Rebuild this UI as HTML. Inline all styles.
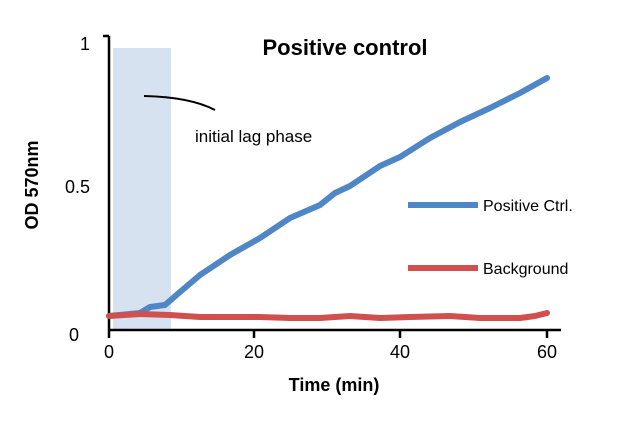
<!DOCTYPE html>
<html><head><style>
body{margin:0;background:#fff;}
svg text{font-family:"Liberation Sans",sans-serif;}
</style></head><body>
<svg width="640" height="430" xmlns="http://www.w3.org/2000/svg">
<rect x="113" y="48" width="58" height="282" fill="#d6e2f0"/>
<path d="M109 36 V330 M103 36 H109 M109 330 H561 M109 330 V338 M254 330 V338 M400 330 V338 M547 330 V338" stroke="#000" stroke-width="2.5" fill="none"/>
<text x="80" y="50" font-size="18">1</text>
<text x="65" y="193" font-size="18">0.5</text>
<text x="69" y="341" font-size="18">0</text>
<text x="109" y="358" font-size="18" text-anchor="middle">0</text>
<text x="254" y="358" font-size="18" text-anchor="middle">20</text>
<text x="400" y="358" font-size="18" text-anchor="middle">40</text>
<text x="547" y="358" font-size="18" text-anchor="middle">60</text>
<text x="334" y="391" font-size="18" font-weight="bold" text-anchor="middle">Time (min)</text>
<text transform="translate(38,185) rotate(-90)" font-size="18" font-weight="bold" text-anchor="middle">OD 570nm</text>
<text x="345" y="55" font-size="22" font-weight="bold" text-anchor="middle">Positive control</text>
<path d="M144 96 Q190 97 215 110" stroke="#000" stroke-width="2" fill="none"/>
<text x="195" y="142" font-size="17">initial lag phase</text>
<path d="M109 316 L140 313 L150 307 L165 305 L180 292 L200 275 L230 255 L260 238 L290 218 L320 205 L335 193 L350 186 L365 176 L380 166 L400 157 L430 138 L460 122 L490 108 L520 93 L547 78" stroke="#4f86c6" stroke-width="6" fill="none" stroke-linejoin="round" stroke-linecap="round"/>
<path d="M109 316 L140 314 L170 315 L200 317 L230 317 L260 317 L290 318 L320 318 L350 316 L380 318 L410 317 L450 316 L480 318 L520 318 L535 316 L547 313" stroke="#d0504f" stroke-width="6" fill="none" stroke-linejoin="round" stroke-linecap="round"/>
<path d="M408 205 H478" stroke="#4f86c6" stroke-width="6"/>
<text x="483" y="211" font-size="16">Positive Ctrl.</text>
<path d="M408 268 H478" stroke="#d0504f" stroke-width="6"/>
<text x="483" y="274" font-size="16">Background</text>
</svg>
</body></html>
